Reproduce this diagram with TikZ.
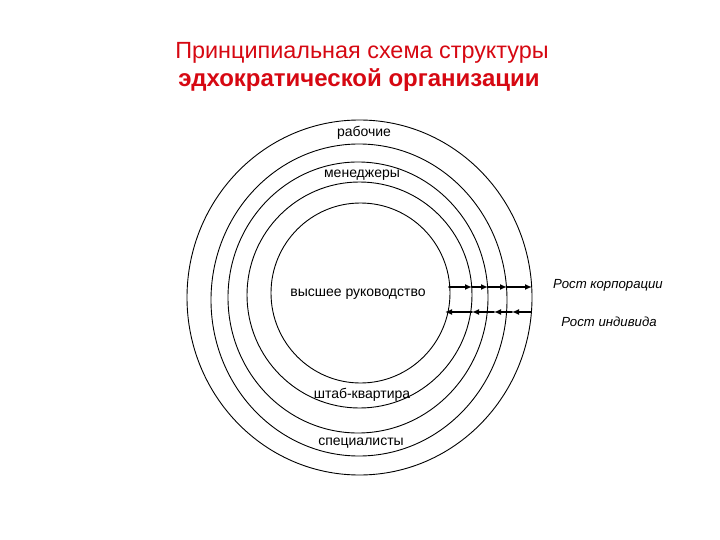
\documentclass[tikz,border=0pt]{standalone}
\usepackage{fontspec}
\setmainfont{Liberation Sans}
\usetikzlibrary{arrows.meta}
\definecolor{titlered}{RGB}{214,8,18}
\begin{document}
\begin{tikzpicture}[x=1pt,y=-1pt,line cap=round,line join=round,
  ring/.style={line width=0.9pt},
  growarrow/.style={line width=1.9pt,-{Latex[length=7pt,width=6pt]}},
  lab/.style={font=\fontsize{14}{16}\selectfont},
  side/.style={font=\fontsize{13.2}{15}\selectfont\itshape}]
  \useasboundingbox (0,0) rectangle (720,540);
  % title
  \node[text=titlered,font=\fontsize{23.4}{26}\selectfont] (T1) at (362,53) {Принципиальная схема структуры};
  \node[text=titlered,font=\fontsize{24}{27}\selectfont\bfseries] (T2) at (359,80) {эдхократической организации};
  % rings, outside in
  \draw[ring] (359.5,297.5) ellipse [x radius=172.5, y radius=177.5];
  \draw[ring] (359,300) ellipse [x radius=148, y radius=156];
  \draw[ring] (358,297.5) ellipse [x radius=130, y radius=135.5];
  \draw[ring] (359.5,295) ellipse [x radius=112.5, y radius=113];
  \draw[ring] (360.5,293) ellipse [x radius=89.5, y radius=90];
  \node[lab] (rab) at (364,133) {рабочие};
  \node[lab] (men) at (362,175) {менеджеры};
  \node[lab] (top) at (358,294) {высшее руководство};
  \node[lab] (hq) at (362,395) {штаб-квартира};
  \node[lab] (spec) at (361,443) {специалисты};
  % crossings of the two arrow rows
  \coordinate (A0) at (449,287);
  \coordinate (A1) at (472,287);
  \coordinate (A2) at (488,287);
  \coordinate (A3) at (507,287);
  \coordinate (A4) at (532,287);
  \coordinate (B0) at (531,312);
  \coordinate (B1) at (512,312);
  \coordinate (B2) at (494,312);
  \coordinate (B3) at (472,312);
  \coordinate (B4) at (445,312);
  \draw[growarrow] (A0) -- (A1);
  \draw[growarrow] (A1) -- (A2);
  \draw[growarrow] (A2) -- (A3);
  \draw[growarrow] (A3) -- (A4);
  \draw[growarrow] (B0) -- (B1);
  \draw[growarrow] (B1) -- (B2);
  \draw[growarrow] (B2) -- (B3);
  \draw[growarrow] (B3) -- (B4);
  \node[side] (corp) at (608,285) {Рост корпорации};
  \node[side] (ind) at (609,322) {Рост индивида};
\end{tikzpicture}
\end{document}
